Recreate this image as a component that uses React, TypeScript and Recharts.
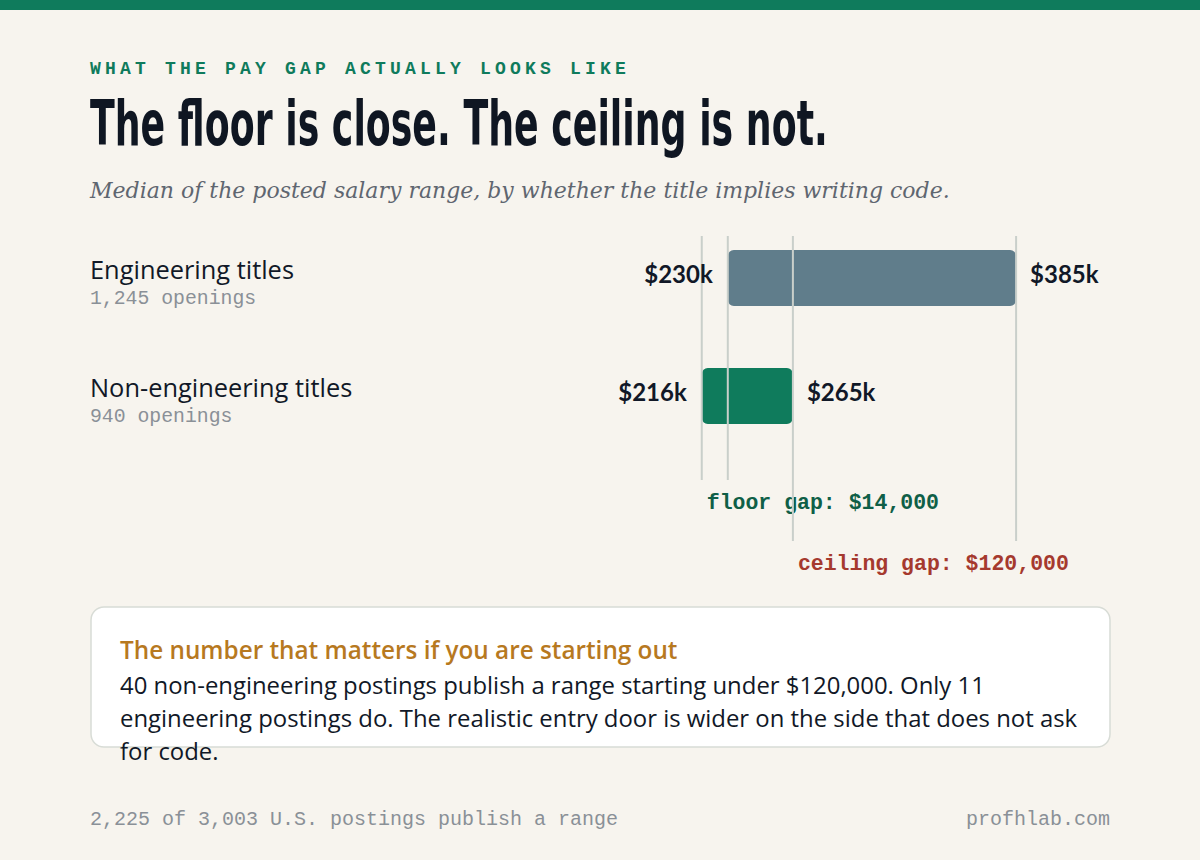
import React, { useLayoutEffect, useRef, useState } from 'react';
import { ComposedChart, Bar, XAxis, YAxis, ReferenceLine, LabelList, Cell } from 'recharts';

// ---------- data ----------
const categories = ['Engineering titles', 'Non-engineering titles'];
const openingsLabels = ['1,245 openings', '940 openings'];
const lowK = [230, 216];
const highK = [385, 265];
const barColors = ['#607d8b', '#0f7b5c'];
const refLinesK = [216, 230, 265, 385];
const gapAnchorsK = [216, 265];
const gapLabels = ['floor gap: $14,000', 'ceiling gap: $120,000'];
const gapColors = ['#0f5f47', '#a5392e'];
const eyebrow = 'WHAT THE PAY GAP ACTUALLY LOOKS LIKE';
const title = 'The floor is close. The ceiling is not.';
const subtitle = 'Median of the posted salary range, by whether the title implies writing code.';
const cardHeading = 'The number that matters if you are starting out';
const cardLines = [
  '40 non-engineering postings publish a range starting under $120,000. Only 11',
  'engineering postings do. The realistic entry door is wider on the side that does not ask',
  'for code.',
];
const footerLeft = '2,225 of 3,003 U.S. postings publish a range';
const footerRight = 'profhlab.com';

const chartData = categories.map((name, i) => ({
  name,
  openings: openingsLabels[i],
  low: lowK[i],
  high: highK[i],
  range: [lowK[i], highK[i]],
}));

// ---------- styles ----------
const BG = '#f7f4ee';
const GREEN = '#0f7b5c';
const INK = '#111827';
const MUTED = '#8a9097';
const SANS = '"Open Sans", "Noto Sans", Lato, sans-serif';
const LABEL_SANS = 'Lato, "Open Sans", sans-serif';
const MONO = '"Liberation Mono", "DejaVu Sans Mono", monospace';
const REF_STROKE = '#c9cfca';
const REF_TOP_INSET = 17;
const REF_BOTTOM_EXT = [25, 25, 86, 86];
const TITLE_WIDTH = 738;

const fmtK = (v: number) => `$${v}k`;

const RowTick = (props: any) => {
  const { y, payload, index } = props;
  return (
    <g>
      <text x={90} y={y + 1} fill={INK} fontFamily={SANS} fontSize={25.4}>
        {payload.value}
      </text>
      <text x={90} y={y + 25.5} fill={MUTED} fontFamily={MONO} fontSize={19.8}>
        {openingsLabels[index]}
      </text>
    </g>
  );
};

const LowLabel = (props: any) => {
  const { x, y, height, value } = props;
  return (
    <text x={x - 15} y={y + height / 2 + 5} textAnchor="end" fill={INK} fontFamily={LABEL_SANS} fontWeight={700} fontSize={24}>
      {fmtK(value)}
    </text>
  );
};

const HighLabel = (props: any) => {
  const { x, y, width, height, value } = props;
  return (
    <text x={x + width + 14} y={y + height / 2 + 5} textAnchor="start" fill={INK} fontFamily={LABEL_SANS} fontWeight={700} fontSize={24}>
      {fmtK(value)}
    </text>
  );
};

const makeRefShape = (i: number) => (props: any) => {
  const { x1, y1, y2 } = props;
  const top = Math.min(y1, y2) + REF_TOP_INSET;
  const bottom = Math.max(y1, y2) + REF_BOTTOM_EXT[i];
  const gi = gapAnchorsK.indexOf(refLinesK[i]);
  return (
    <g>
      {gi >= 0 && (
        <text x={x1 + 5} y={bottom + 29} fill={gapColors[gi]} fontFamily={MONO} fontWeight={700} fontSize={21.5}>
          {gapLabels[gi]}
        </text>
      )}
      <line x1={x1} x2={x1} y1={top} y2={bottom} stroke={REF_STROKE} strokeWidth={2} />
    </g>
  );
};

function Title() {
  const ref = useRef<SVGTextElement>(null);
  const [sx, setSx] = useState(1);
  useLayoutEffect(() => {
    if (ref.current) {
      const w = ref.current.getComputedTextLength();
      if (w > 0) setSx(TITLE_WIDTH / w);
    }
  }, []);
  return (
    <g transform={`translate(90,145) scale(${sx},1)`}>
      <text
        ref={ref}
        x={0}
        y={0}
        fill="#0f1622"
        fontFamily='"Liberation Sans Narrow", "DejaVu Sans Condensed", "Liberation Sans", sans-serif'
        fontWeight={700}
        fontSize={63}
      >
        {title}
      </text>
    </g>
  );
}

export default function App() {
  return (
    <div style={{ position: 'absolute', left: 0, top: 0, width: 1200, height: 860, background: BG, overflow: 'hidden' }}>
      <svg width={1200} height={860} style={{ position: 'absolute', left: 0, top: 0 }}>
        <rect x={0} y={0} width={1200} height={10} fill={GREEN} />
        <text x={90} y={74} fill={GREEN} fontFamily={MONO} fontWeight={700} fontSize={18} letterSpacing={4.2}>
          {eyebrow}
        </text>
        <Title />
        <text x={90} y={198} fill="#5f6670" fontFamily='"DejaVu Serif", serif' fontStyle="italic" fontSize={22}>
          {subtitle}
        </text>

        <rect x={91} y={607} width={1019} height={140} rx={13} fill="#ffffff" stroke="#d8dcd6" strokeWidth={1.5} />
        <text x={120} y={659} fill="#b7791f" fontFamily={SANS} fontWeight={600} fontSize={24.3}>
          {cardHeading}
        </text>
        {cardLines.map((l, i) => (
          <text key={i} x={120} y={694 + i * 33} fill={INK} fontFamily={SANS} fontSize={23.9}>
            {l}
          </text>
        ))}

        <text x={90} y={825} fill={MUTED} fontFamily={MONO} fontSize={20}>
          {footerLeft}
        </text>
        <text x={1110} y={825} textAnchor="end" fill={MUTED} fontFamily={MONO} fontSize={20}>
          {footerRight}
        </text>
      </svg>

      <div style={{ position: 'absolute', left: 0, top: 0, width: 1200, height: 860 }}>
        <ComposedChart
          width={1200}
          height={860}
          data={chartData}
          layout="vertical"
          margin={{ top: 219, right: 156, bottom: 405, left: 0 }}
        >
          <XAxis type="number" domain={[100, 400]} hide allowDataOverflow />
          <YAxis
            type="category"
            dataKey="name"
            width={486}
            axisLine={false}
            tickLine={false}
            tick={<RowTick />}
            interval={0}
          />
          <Bar dataKey="range" barSize={56} radius={6} isAnimationActive={false}>
            {chartData.map((d, i) => (
              <Cell key={d.name} fill={barColors[i]} />
            ))}
            <LabelList dataKey="low" content={<LowLabel />} />
            <LabelList dataKey="high" content={<HighLabel />} />
          </Bar>
          {refLinesK.map((v, i) => (
            <ReferenceLine key={v} x={v} ifOverflow="visible" stroke={REF_STROKE} strokeWidth={2} shape={makeRefShape(i)} />
          ))}
        </ComposedChart>
      </div>
    </div>
  );
}
